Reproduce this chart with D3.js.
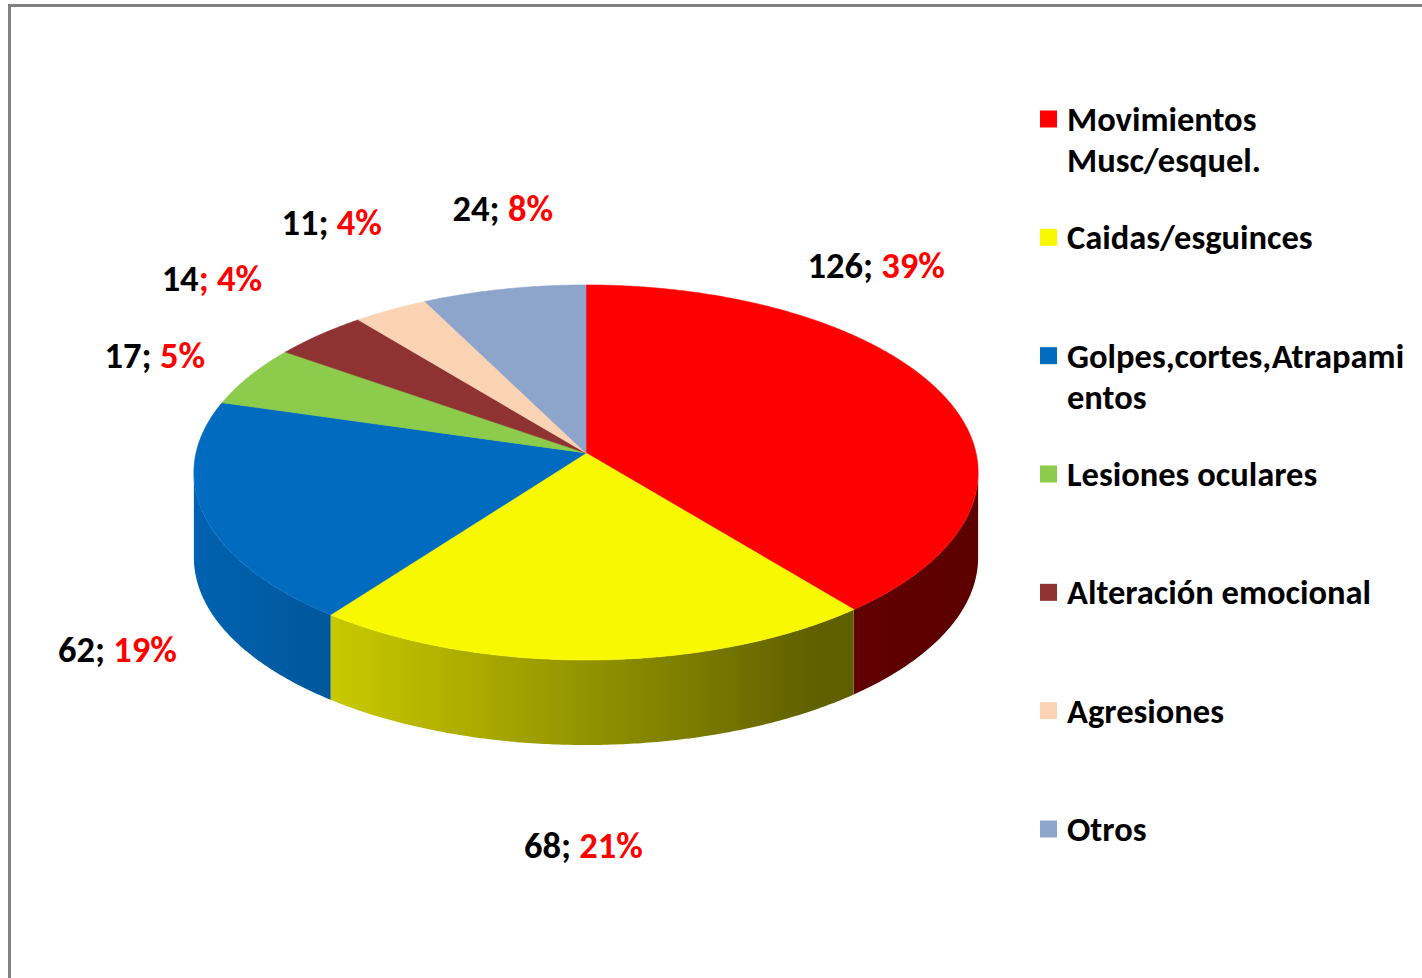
<!DOCTYPE html>
<html>
<head>
<meta charset="utf-8">
<script src="https://cdn.jsdelivr.net/npm/d3@7"></script>
<style>
  html, body { margin: 0; padding: 0; background: #fff; }
  svg { display: block; }
  text { font-family: Carlito, Calibri, Lato, "Open Sans", sans-serif; font-weight: bold; }
</style>
</head>
<body>
<svg id="chart" width="1422" height="978"></svg>
<script>
// data
const categories = [
  'Movimientos\nMusc/esquel.',
  'Caidas/esguinces',
  'Golpes,cortes,Atrapami\nentos',
  'Lesiones oculares',
  'Alteración emocional',
  'Agresiones',
  'Otros'
];
const values = [126, 68, 62, 17, 14, 11, 24];
const percentLabels = ['39%', '21%', '19%', '5%', '4%', '4%', '8%'];
const colors = ['#ff0000', '#f8f800', '#006bbf', '#8ccb4c', '#8e3232', '#f9d3b4', '#8ea5cb'];

// label offsets from the slice's rim point (Excel puts them by hand-ish)
const labelNudge = [[-65, -128], [-11, 185], [-86, 136], [-95, -21], [-108, -57], [-59, -88], [-1, -81]];

const width = 1422, height = 978;
const cx = 586, cy = 453;       // pie apex on screen
const RX = 390, RY = 185.5;     // disk radii
const D = 9.62;                 // perspective distance (in radii)
const H = 85;                   // disk thickness
const legendFont = 34.5;
const labelFont = 36.5;

const svg = d3.select('#chart');

// frame, cut by the right and bottom edges
svg.append('path')
  .attr('d', `M9.5,${height} V5.5 H${width}`)
  .attr('fill', 'none')
  .attr('stroke', '#808080')
  .attr('stroke-width', 3);

const color = d3.scaleOrdinal().domain(categories).range(colors);

const pie = d3.pie().sort(null).value(d => d.value).startAngle(0).endAngle(2 * Math.PI);
const arcs = pie(categories.map((c, i) => ({ cat: c, value: values[i], pct: percentLabels[i], i })));

// perspective projection of a point on the disk
function proj(theta, r = 1, dy = 0) {
  const u = r * Math.sin(theta), v = -r * Math.cos(theta);
  const s = D / (D - v);
  return [cx + RX * u * s, cy + RY * v * s + dy];
}

function arcPts(a0, a1, dy) {
  const n = Math.max(2, Math.ceil((a1 - a0) / (Math.PI / 360)));
  return d3.range(n + 1).map(k => proj(a0 + (a1 - a0) * k / n, 1, dy));
}

const line = d3.line();

// shading of the rim, darker to the right
const defs = svg.append('defs');
const shade = [[193, 0.92], [332, 0.81], [600, 0.58], [810, 0.39], [980, 0.36]];
arcs.forEach(a => {
  const base = d3.rgb(color(a.data.cat));
  const g = defs.append('linearGradient')
    .attr('id', `side-${a.index}`)
    .attr('gradientUnits', 'userSpaceOnUse')
    .attr('x1', 193).attr('x2', 980).attr('y1', 0).attr('y2', 0);
  shade.forEach(([x, f]) => {
    g.append('stop')
      .attr('offset', (x - 193) / 787)
      .attr('stop-color', d3.rgb(base.r * f, base.g * f, base.b * f).formatHex());
  });
});

// visible part of the rim lies between the left / right tangent points
const visA = Math.acos(-1 / D), visB = 2 * Math.PI - visA;

const sides = svg.append('g').attr('class', 'sides');
arcs.forEach(a => {
  const a0 = Math.max(a.startAngle, visA), a1 = Math.min(a.endAngle, visB);
  if (a1 <= a0) return;
  const top = arcPts(a0, a1, 0);
  const bot = arcPts(a0, a1, H).reverse();
  sides.append('path')
    .attr('d', line(top.concat(bot)) + 'Z')
    .attr('fill', `url(#side-${a.index})`);
});

const tops = svg.append('g').attr('class', 'tops');
tops.selectAll('path')
  .data(arcs)
  .join('path')
    .attr('d', a => line([[cx, cy]].concat(arcPts(a.startAngle, a.endAngle, 0))) + 'Z')
    .attr('fill', a => color(a.data.cat))
    .attr('stroke', a => color(a.data.cat))
    .attr('stroke-width', 0.6);

// data labels
const labels = svg.append('g').attr('class', 'labels')
  .style('font-size', `${labelFont}px`)
  .attr('text-anchor', 'middle');

arcs.forEach(a => {
  const mid = (a.startAngle + a.endAngle) / 2;
  const p = proj(mid, 1, 0);
  const [dx, dy] = labelNudge[a.index];
  const t = labels.append('text')
    .attr('x', p[0] + dx)
    .attr('y', p[1] + dy)
    .attr('dy', '0.35em');
  t.append('tspan').attr('fill', '#000').text(a.data.value);
  // the 14 label has its separator in red in the picture
  t.append('tspan').attr('fill', a.data.value === 14 ? '#ff0000' : '#000').text('; ');
  t.append('tspan').attr('fill', '#ff0000').text(a.data.pct);
});

// legend
const legendY = d3.scalePoint().domain(categories).range([119, 829]);
const legend = svg.append('g').attr('class', 'legend')
  .style('font-size', `${legendFont}px`);

legend.selectAll('g')
  .data(categories)
  .join('g')
    .attr('transform', d => `translate(1040, ${legendY(d)})`)
    .each(function (d) {
      const g = d3.select(this);
      g.append('rect')
        .attr('x', 0).attr('y', -8.5)
        .attr('width', 17).attr('height', 17)
        .attr('fill', color(d));
      const t = g.append('text').attr('x', 27).attr('y', 0).attr('dy', '0.35em').attr('fill', '#000');
      d.split('\n').forEach((s, k) => {
        t.append('tspan').attr('x', 27).attr('dy', k === 0 ? '0.35em' : 41).text(s);
      });
    });
</script>
</body>
</html>
